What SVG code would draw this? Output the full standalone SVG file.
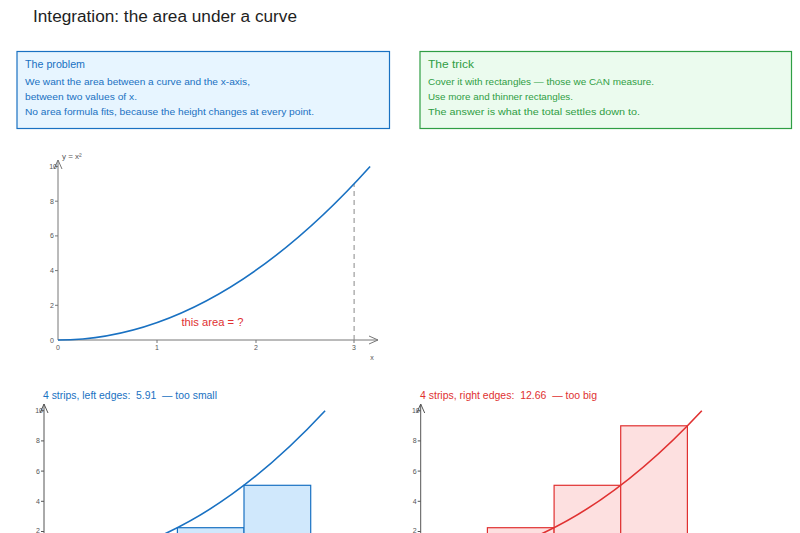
<svg xmlns="http://www.w3.org/2000/svg" width="800" height="533" viewBox="0 0 800 533">
<defs>
<style>
text{font-family:"Liberation Sans","DejaVu Sans",sans-serif}
.title{font-size:16px;fill:#1e1e1e}
.bt{font-size:11px}
.bd{font-size:9.5px}
.blue{fill:#1971c2}
.green{fill:#2f9e44}
.red{fill:#e03131}
.tick{font-size:7px;fill:#555}
.axis{stroke:#777;stroke-width:1;fill:none}
.axis2{stroke:#555;stroke-width:1;fill:none}
.curveB{stroke:#1971c2;stroke-width:1.6;fill:none}
.curveR{stroke:#e03131;stroke-width:1.6;fill:none}
.rectB{fill:#d0e8fc;stroke:#1971c2;stroke-width:1.2}
.rectR{fill:#fde0e0;stroke:#e03131;stroke-width:1.2}
</style>
<marker id="chev" markerWidth="12" markerHeight="12" refX="10" refY="6" orient="auto" markerUnits="userSpaceOnUse">
<path d="M1,2 L10,6 L1,10" fill="none" stroke="#777" stroke-width="1"/>
</marker>
<marker id="chev2" markerWidth="12" markerHeight="12" refX="10" refY="6" orient="auto" markerUnits="userSpaceOnUse">
<path d="M1,2 L10,6 L1,10" fill="none" stroke="#555" stroke-width="1"/>
</marker>
</defs>
<rect width="800" height="533" fill="#ffffff"/>

<g id="title"><text class="title" x="33" y="22" textLength="264" lengthAdjust="spacingAndGlyphs">Integration: the area under a curve</text></g>

<g id="problem">
<rect x="17" y="51.5" width="372.5" height="77" fill="#e7f5ff" stroke="#1971c2" stroke-width="1.2"/>
<text class="bt blue" x="25" y="68" textLength="60" lengthAdjust="spacingAndGlyphs">The problem</text>
<text class="bd blue" x="25" y="85" textLength="225" lengthAdjust="spacingAndGlyphs">We want the area between a curve and the x-axis,</text>
<text class="bd blue" x="25" y="100" textLength="112" lengthAdjust="spacingAndGlyphs">between two values of x.</text>
<text class="bd blue" x="25" y="115" textLength="289" lengthAdjust="spacingAndGlyphs">No area formula fits, because the height changes at every point.</text>
</g>

<g id="trick">
<rect x="420" y="51.5" width="371.5" height="77" fill="#ebfbee" stroke="#2f9e44" stroke-width="1.2"/>
<text class="bt green" x="428" y="68" textLength="46" lengthAdjust="spacingAndGlyphs">The trick</text>
<text class="bd green" x="428" y="85" textLength="226" lengthAdjust="spacingAndGlyphs">Cover it with rectangles — those we CAN measure.</text>
<text class="bd green" x="428" y="100" textLength="145" lengthAdjust="spacingAndGlyphs">Use more and thinner rectangles.</text>
<text class="bd green" x="428" y="115" textLength="212" lengthAdjust="spacingAndGlyphs">The answer is what the total settles down to.</text>
</g>

<g id="main-chart">
<line class="axis" x1="58" y1="340" x2="378" y2="340" marker-end="url(#chev)"/>
<line class="axis" x1="58" y1="340" x2="58" y2="160" marker-end="url(#chev)"/>
<g stroke="#777" stroke-width="1">
<line x1="55" y1="305.3" x2="58" y2="305.3"/>
<line x1="55" y1="270.6" x2="58" y2="270.6"/>
<line x1="55" y1="235.9" x2="58" y2="235.9"/>
<line x1="55" y1="201.2" x2="58" y2="201.2"/>
<line x1="55" y1="166.5" x2="58" y2="166.5"/>
<line x1="157" y1="340" x2="157" y2="343"/>
<line x1="256" y1="340" x2="256" y2="343"/>
<line x1="354" y1="340" x2="354" y2="343"/>
</g>
<g class="tick" text-anchor="end">
<text x="54" y="342.5">0</text>
<text x="54" y="307.5">2</text>
<text x="54" y="273">4</text>
<text x="54" y="238">6</text>
<text x="54" y="203.5">8</text>
<text x="57" y="169">10</text>
</g>
<g class="tick" text-anchor="middle">
<text x="58" y="350">0</text>
<text x="157" y="350">1</text>
<text x="256" y="350">2</text>
<text x="354" y="350">3</text>
<text x="372" y="360">x</text>
</g>
<text class="tick" x="62" y="159" style="font-size:8px">y = x²</text>
<line x1="354.1" y1="340" x2="354.1" y2="184" stroke="#888" stroke-width="1" stroke-dasharray="5,4"/>
<path class="curveB" d="M58,340 Q214.1,340 370.1,166.5"/>
<text class="red" x="181.5" y="326" font-size="11px" textLength="62" lengthAdjust="spacingAndGlyphs">this area = ?</text>
</g>

<g id="left-chart">
<text class="blue" x="43" y="399" font-size="10px" textLength="174" lengthAdjust="spacingAndGlyphs" xml:space="preserve">4 strips, left edges:  5.91  — too small</text>
<rect class="rectB" x="110.7" y="553.2" width="66.7" height="20"/>
<rect class="rectB" x="177.4" y="527.7" width="66.6" height="40"/>
<rect class="rectB" x="244" y="485.3" width="66.7" height="80"/>
<line class="axis2" x1="44" y1="540" x2="44" y2="404" marker-end="url(#chev2)"/>
<g stroke="#555" stroke-width="1">
<line x1="41" y1="410.7" x2="44" y2="410.7"/>
<line x1="41" y1="440.9" x2="44" y2="440.9"/>
<line x1="41" y1="471.1" x2="44" y2="471.1"/>
<line x1="41" y1="501.3" x2="44" y2="501.3"/>
<line x1="41" y1="531.5" x2="44" y2="531.5"/>
</g>
<g class="tick" text-anchor="end">
<text x="43" y="413">10</text>
<text x="40" y="443">8</text>
<text x="40" y="473.5">6</text>
<text x="40" y="503.5">4</text>
<text x="40" y="532.8">2</text>
</g>
<path class="curveB" d="M44,561.7 Q184.6,561.7 325.1,410.7"/>
</g>

<g id="right-chart">
<text class="red" x="420" y="399" font-size="10px" textLength="177" lengthAdjust="spacingAndGlyphs" xml:space="preserve">4 strips, right edges:  12.66  — too big</text>
<rect class="rectR" x="420.7" y="553.2" width="66.7" height="20"/>
<rect class="rectR" x="487.4" y="527.7" width="66.7" height="40"/>
<rect class="rectR" x="554.1" y="485.3" width="66.6" height="90"/>
<rect class="rectR" x="620.7" y="425.8" width="66.7" height="150"/>
<line class="axis2" x1="420.7" y1="540" x2="420.7" y2="404" marker-end="url(#chev2)"/>
<g stroke="#555" stroke-width="1">
<line x1="417.7" y1="410.7" x2="420.7" y2="410.7"/>
<line x1="417.7" y1="440.9" x2="420.7" y2="440.9"/>
<line x1="417.7" y1="471.1" x2="420.7" y2="471.1"/>
<line x1="417.7" y1="501.3" x2="420.7" y2="501.3"/>
<line x1="417.7" y1="531.5" x2="420.7" y2="531.5"/>
</g>
<g class="tick" text-anchor="end">
<text x="419.7" y="413">10</text>
<text x="416.7" y="443">8</text>
<text x="416.7" y="473.5">6</text>
<text x="416.7" y="503.5">4</text>
<text x="416.7" y="532.8">2</text>
</g>
<path class="curveR" d="M420.7,561.7 Q561.3,561.7 701.8,410.7"/>
</g>
</svg>
